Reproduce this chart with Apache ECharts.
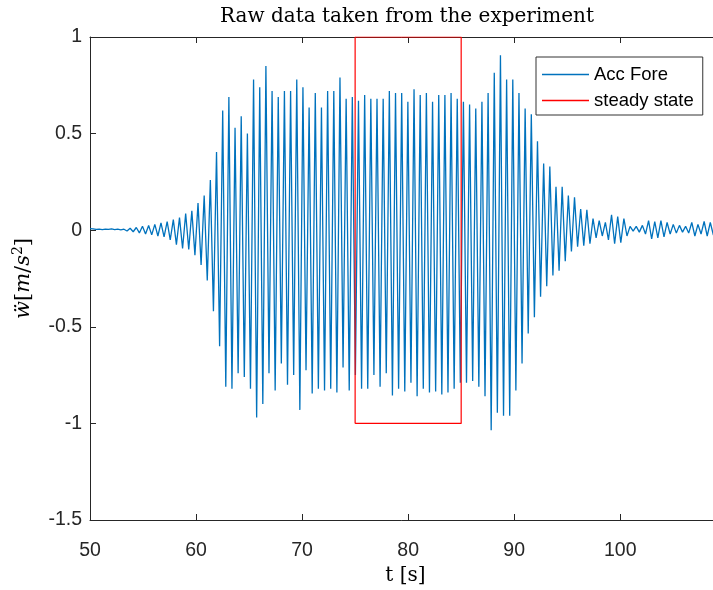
<!DOCTYPE html>
<html>
<head>
<meta charset="utf-8">
<script src="https://cdn.jsdelivr.net/npm/echarts@6/dist/echarts.min.js"></script>
<style>html,body{margin:0;padding:0;background:#fff}#c{width:713px;height:590px}</style>
</head>
<body>
<div id="c"></div>
<script>
// ---- data ----
const titleText = 'Raw data taken from the experiment';
const seriesNames = ['Acc Fore', 'steady state'];
const xTicks = [50, 60, 70, 80, 90, 100];
const yTicks = [-1.5, -1, -0.5, 0, 0.5, 1];
// sample grid of the acceleration record (half-period spacing)
const tStart = 50;
const tStep = 0.291;
// acceleration extremes (m/s^2), alternating around zero
const accVals = [
  0.008, 0.007, 0.004, 0.006, 0.003, 0.006, 0.004, 0.007, 0.003, 0.006, 0.002, 0.005,
  -0.004, 0.01, -0.008, 0.014, -0.014, 0.02, -0.02, 0.024, -0.024, 0.03, -0.03, 0.038, -0.035, 0.045, -0.05, 0.055,
  -0.075, 0.065, -0.095, 0.086, -0.10, 0.10, -0.13, 0.14, -0.18, 0.18, -0.26, 0.26, -0.42, 0.405, -0.60, 0.62,
  -0.81, 0.69, -0.82, 0.53, -0.74, 0.59, -0.76, 0.50, -0.82, 0.78, -0.97, 0.74, -0.90, 0.85, -0.74, 0.72,
  -0.83, 0.69, -0.69, 0.72, -0.80, 0.72, -0.75, 0.78, -0.93, 0.74, -0.725, 0.635, -0.845, 0.71, -0.82, 0.635,
  -0.83, 0.72, -0.82, 0.72, -0.84, 0.79, -0.71, 0.68, -0.83, 0.69, -0.75, 0.67, -0.82, 0.70, -0.82, 0.68,
  -0.75, 0.68, -0.81, 0.68, -0.74, 0.72, -0.855, 0.71, -0.82, 0.71, -0.835, 0.665, -0.79, 0.73, -0.86, 0.70,
  -0.82, 0.71, -0.84, 0.665, -0.835, 0.70, -0.85, 0.70, -0.84, 0.71, -0.82, 0.68, -0.79, 0.665, -0.79, 0.65,
  -0.78, 0.63, -0.81, 0.665, -0.86, 0.71, -1.035, 0.815, -0.945, 0.905, -0.96, 0.78, -0.96, 0.78, -0.83, 0.71,
  -0.69, 0.63, -0.535, 0.60, -0.45, 0.46, -0.345, 0.345, -0.29, 0.33, -0.235, 0.225, -0.21, 0.225, -0.16, 0.18,
  -0.11, 0.17, -0.085, 0.11, -0.08, 0.105, -0.07, 0.06, -0.04, 0.05, -0.03, 0.04, -0.05, 0.08, -0.07, 0.07,
  -0.065, 0.06, -0.03, 0.02, -0.005, 0.02, -0.01, 0.025, -0.02, 0.05, -0.045, 0.045, -0.04, 0.05, -0.035, 0.04,
  -0.02, 0.03, -0.015, 0.025, -0.01, 0.02, -0.015, 0.04, -0.03, 0.03, -0.02, 0.045, -0.03, 0.04, -0.025, 0.01
];
// steady-state window outline
const steadyT = [75, 75, 85, 85, 75];
const steadyV = [-1, 1, 1, -1, -1];
const xMin = 50, xMax = 109.5, yMin = -1.5, yMax = 1;

// ---- build ----
const accData = accVals.map((v, i) => [tStart + i * tStep, v]);
const steadyData = steadyT.map((t, i) => [t, steadyV[i]]);

const axisColor = '#262626';
const chart = echarts.init(document.getElementById('c'), null, {renderer: 'canvas'});
chart.setOption({
  animation: false,
  backgroundColor: '#ffffff',
  title: {
    text: titleText,
    left: 402,
    top: 2,
    textAlign: 'center',
    textStyle: {fontFamily: 'DejaVu Serif', fontWeight: 'normal', fontSize: 20, color: '#000'}
  },
  legend: {
    orient: 'vertical',
    left: 536,
    top: 57,
    padding: [8, 9, 5, 6],
    icon: 'rect',
    itemWidth: 47,
    itemHeight: 1.5,
    itemGap: 7,
    backgroundColor: '#fff',
    borderColor: '#333',
    borderWidth: 1,
    textStyle: {fontFamily: 'Liberation Sans', fontSize: 18.5, lineHeight: 19, color: '#000'},
    data: seriesNames
  },
  grid: {left: 90, width: 631, top: 37, bottom: 70, containLabel: false, outerBoundsMode: 'none'},
  xAxis: [{
    type: 'value', min: xMin, max: xMax, interval: 10,
    name: 't [s]', nameLocation: 'middle', nameGap: 46,
    nameTextStyle: {fontFamily: 'DejaVu Serif', fontSize: 20, color: '#000'},
    axisLine: {show: true, onZero: false, lineStyle: {color: axisColor, width: 1}},
    axisTick: {show: true, inside: true, length: 6, lineStyle: {color: axisColor}},
    axisLabel: {show: true, showMaxLabel: false, margin: 21, fontFamily: 'Liberation Sans', fontSize: 19.5, color: axisColor,
      formatter: v => xTicks.includes(v) ? String(v) : ''},
    splitLine: {show: false}
  }, {
    type: 'value', position: 'top', min: xMin, max: xMax, interval: 10,
    axisLine: {show: true, onZero: false, lineStyle: {color: axisColor, width: 1}},
    axisTick: {show: true, inside: true, length: 6, lineStyle: {color: axisColor}},
    axisLabel: {show: false},
    splitLine: {show: false}
  }],
  yAxis: {
    type: 'value', min: yMin, max: yMax, interval: 0.5,
    name: '{it|ẅ}{n|[}{it|m}{n|/}{it|s}{sup|2}{n|]}',
    nameLocation: 'middle', nameGap: 53, nameRotate: 90,
    nameTextStyle: {
      color: '#000',
      rich: {
        it: {fontFamily: 'DejaVu Serif', fontStyle: 'italic', fontSize: 21, color: '#000'},
        n: {fontFamily: 'DejaVu Serif', fontSize: 21, color: '#000'},
        sup: {fontFamily: 'DejaVu Serif', fontSize: 14, color: '#000', padding: [0, 0, 12, 0]}
      }
    },
    axisLine: {show: true, onZero: false, lineStyle: {color: axisColor, width: 1}},
    axisTick: {show: true, inside: true, length: 6, lineStyle: {color: axisColor}},
    axisLabel: {margin: 8, fontFamily: 'Liberation Sans', fontSize: 19.5, color: axisColor,
      formatter: v => yTicks.includes(v) ? String(v) : ''},
    splitLine: {show: false}
  },
  series: [{
    name: seriesNames[0], type: 'line', xAxisIndex: 0, data: accData,
    symbol: 'none', showSymbol: false,
    lineStyle: {color: '#0072BD', width: 1.3},
    itemStyle: {color: '#0072BD'}
  }, {
    name: seriesNames[1], type: 'line', xAxisIndex: 0, data: steadyData,
    symbol: 'none', showSymbol: false,
    lineStyle: {color: '#FF0000', width: 1.2},
    itemStyle: {color: '#FF0000'}
  }]
});
</script>
</body>
</html>
